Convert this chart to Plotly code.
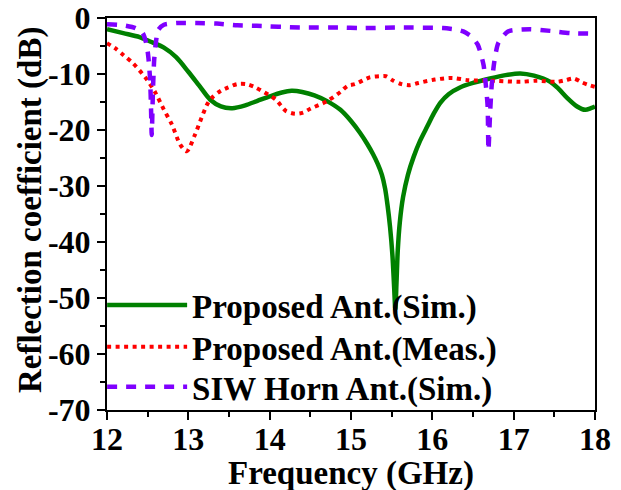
import plotly.graph_objects as go

# Proposed Ant. (Sim.)
sim_f = [12.0, 12.2, 12.4, 12.53, 12.7, 12.85, 13.0, 13.15, 13.27, 13.4, 13.54, 13.7, 13.85, 14.0,
         14.15, 14.27, 14.4, 14.55, 14.7, 14.87, 15.0, 15.11, 15.2, 15.27, 15.33, 15.38, 15.42,
         15.45, 15.48, 15.51, 15.53, 15.545, 15.56, 15.575, 15.6, 15.64, 15.7, 15.77, 15.85, 15.94,
         16.02, 16.1, 16.2, 16.34, 16.5, 16.71, 16.9, 17.08, 17.25, 17.45, 17.55, 17.66, 17.78,
         17.88, 17.95, 18.0]
sim_db = [-2.0, -2.7, -3.4, -4.2, -5.3, -7.0, -9.6, -12.4, -14.6, -15.8, -16.1, -15.6, -14.8, -14.0,
          -13.3, -13.0, -13.2, -13.8, -14.8, -16.4, -18.4, -20.5, -22.5, -24.3, -26.1, -28.0, -30.5,
          -33.5, -37.3, -42.5, -48.0, -52.0, -47.0, -41.5, -36.5, -32.0, -28.0, -24.8, -21.9, -19.3,
          -17.0, -15.1, -13.6, -12.4, -11.6, -10.8, -10.2, -9.9, -10.3, -11.4, -12.6, -14.3, -15.8,
          -16.4, -16.1, -15.8]

# Proposed Ant. (Meas.)
meas_f = [12.0, 12.1, 12.2, 12.32, 12.47, 12.59, 12.69, 12.8, 12.9, 12.98, 13.08, 13.16, 13.24, 13.3,
          13.4, 13.49, 13.6, 13.71, 13.81, 13.9, 14.07, 14.2, 14.31, 14.41, 14.5, 14.7, 14.87, 14.96,
          15.05, 15.23, 15.35, 15.43, 15.51, 15.62, 15.72, 15.83, 16.03, 16.24, 16.44, 16.77, 17.08,
          17.29, 17.53, 17.64, 17.74, 17.84, 17.93, 18.0]
meas_db = [-4.5, -5.4, -6.6, -8.1, -10.6, -13.2, -16.1, -19.1, -22.6, -23.8, -20.9, -17.9, -15.2, -14.1,
           -13.0, -12.4, -11.8, -11.8, -12.3, -13.0, -14.5, -16.6, -17.1, -16.9, -16.2, -14.9, -13.2, -12.1,
           -11.8, -10.6, -10.4, -10.4, -11.1, -11.8, -12.0, -11.6, -11.0, -10.7, -11.1, -11.2, -11.4,
           -11.2, -11.4, -11.1, -10.8, -11.5, -12.0, -12.3]

# SIW Horn Ant. (Sim.)
siw_f = [12.0, 12.2, 12.35, 12.44, 12.49, 12.51, 12.53, 12.54, 12.55, 12.565, 12.58, 12.6, 12.63, 12.7,
         12.86, 13.1, 13.35, 13.6, 13.84, 14.37, 14.87, 15.11, 15.6, 16.13, 16.3, 16.38, 16.48, 16.56,
         16.63, 16.66, 16.68, 16.69, 16.71, 16.73, 16.76, 16.81, 16.93, 17.2, 17.45, 17.7, 18.0]
siw_db = [-1.1, -1.3, -1.8, -2.7, -5.0, -7.2, -11.0, -15.3, -20.9, -13.0, -7.5, -4.5, -2.1, -1.2,
          -0.9, -0.9, -1.0, -1.3, -1.4, -1.7, -1.7, -1.8, -1.7, -1.8, -2.1, -2.4, -3.3, -4.8,
          -8.4, -12.3, -15.8, -23.6, -17.0, -12.0, -8.0, -4.5, -2.4, -2.0, -2.3, -2.7, -2.8]

names = ["Proposed Ant.(Sim.)", "Proposed Ant.(Meas.)", "SIW Horn Ant.(Sim.)"]
x_ticks = [12, 13, 14, 15, 16, 17, 18]
y_ticks = [0, -10, -20, -30, -40, -50, -60, -70]
x_title = "Frequency (GHz)"
y_title = "Reflection coefficient (dB)"

FONT = "Liberation Serif, Times New Roman, serif"
BOLD = dict(family=FONT, size=33, color="black", weight="bold")
TICKF = dict(family=FONT, size=32, color="black", weight="bold")

fig = go.Figure()
fig.add_trace(go.Scatter(x=sim_f, y=sim_db, mode="lines", name=names[0], legend="legend", showlegend=True,
                         line=dict(color="#008000", width=4.5, shape="spline", smoothing=0.8)))
fig.add_trace(go.Scatter(x=meas_f, y=meas_db, mode="lines", name=names[1], legend="legend2", showlegend=True,
                         line=dict(color="#FF0000", width=4, dash="4px,4.5px", shape="spline", smoothing=0.8)))
fig.add_trace(go.Scatter(x=siw_f, y=siw_db, mode="lines", name=names[2], legend="legend3", showlegend=True,
                         line=dict(color="#7F00FF", width=4.5, dash="10px,9px", shape="spline", smoothing=0.6)))

axis_common = dict(showline=True, linecolor="black", linewidth=2, mirror=True, showgrid=False,
                   zeroline=False, ticks="outside", ticklen=8, tickwidth=2, tickcolor="black",
                   automargin=False, tickfont=TICKF)

fig.update_xaxes(range=[12, 18], tickvals=x_ticks, ticktext=[str(v) for v in x_ticks],
                 minor=dict(ticks="outside", ticklen=5, tickwidth=2, dtick=0.5, tickcolor="black"),
                 ticklabelstandoff=-8, **axis_common)
fig.update_yaxes(range=[-70, 0], tickvals=y_ticks, ticktext=[str(v) for v in y_ticks],
                 minor=dict(ticks="outside", ticklen=5, tickwidth=2, dtick=5, tickcolor="black"),
                 **axis_common)

fig.add_annotation(text=x_title, x=0.5, y=0, xref="paper", yref="paper", xanchor="center",
                   yanchor="middle", yshift=-63, showarrow=False, font=BOLD)
fig.add_annotation(text=y_title, x=0, y=0.51, xref="paper", yref="paper", xanchor="center",
                   yanchor="middle", xshift=-77, textangle=-90, showarrow=False, font=BOLD)

leg_common = dict(x=-0.01, xanchor="left", yanchor="middle", bgcolor="rgba(0,0,0,0)",
                  font=BOLD, itemwidth=80, visible=True)

fig.update_layout(
    width=621, height=490,
    margin=dict(l=107, r=26, t=18, b=80),
    paper_bgcolor="white", plot_bgcolor="white",
    showlegend=True,
    legend=dict(y=0.268, **leg_common),
    legend2=dict(y=0.161, **leg_common),
    legend3=dict(y=0.059, **leg_common),
)

fig.write_html("out.html")
